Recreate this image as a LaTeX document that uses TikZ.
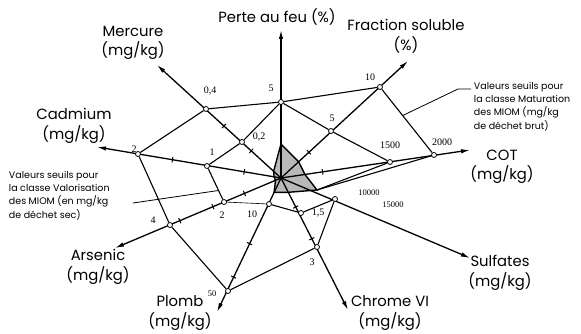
\documentclass[tikz,border=0pt]{standalone}
\usepackage{fontspec}
\setmainfont{Liberation Serif}
\newfontfamily\futura{Poppins}
\usetikzlibrary{arrows.meta,calc,decorations.markings,backgrounds}

\tikzset{
  axe/.style={line width=1.3pt,-{Latex[length=9pt,width=4.5pt]}},
  axtick/.style={postaction={decorate,decoration={markings,mark=at position #1 with {\draw[-,line width=1pt] (0,-2.8pt) -- (0,2.8pt);}}}},
  seuil/.style={line width=1.1pt},
  renvoi/.style={line width=0.8pt},
  pt/.style={circle,draw,fill=white,line width=0.8pt,inner sep=0pt,minimum size=5pt},
  valeur/.style={font=\fontsize{10}{11}\selectfont,inner sep=0.75pt},
  petit/.style={font=\fontsize{8.5}{9}\selectfont,inner sep=0.75pt},
  titre/.style={font=\futura\fontsize{14.8}{19.5}\selectfont,align=center,inner sep=0.75pt},
  note/.style={font=\futura\fontsize{9.5}{13.3}\selectfont,align=left,inner sep=0.75pt},
}

\begin{document}
\begin{tikzpicture}[x=1pt,y=1pt,yscale=-1,xscale=1]
\useasboundingbox (0,0) rectangle (581,334);

%centre and arrow ends
\coordinate (O) at (281,178);
\coordinate (tPerte) at (281,30);
\coordinate (tHg) at (157,65);
\coordinate (tCd) at (97,147);
\coordinate (tAs) at (115,248);
\coordinate (tPb) at (217,312);
\coordinate (tCr) at (348,310);
\coordinate (tSulf) at (470,258);
\coordinate (tCOT) at (470,150);
\coordinate (tFrac) at (408,61);

%Shape: threshold points
\node[pt] (P5) at (281,102) {};
\node[pt] (Hg4) at (206,109) {};
\node[pt] (Hg2) at (242,142) {};
\node[pt] (Cd2) at (138,154) {};
\node[pt] (Cd1) at (207,166) {};
\node[pt] (As4) at (170,225) {};
\node[pt] (As2) at (224,202) {};
\node[pt] (Pb50) at (228,291) {};
\node[pt] (Pb10) at (269,204) {};
\node[pt] (Cr3) at (317,247) {};
\node[pt] (Cr15) at (301,213) {};
\node[pt] (S15) at (335,199) {};
\coordinate (S10) at (317,190);
\node[pt] (C15) at (390,162) {};
\node[pt] (C20) at (434,155) {};
\node[pt] (F5) at (331,131) {};
\node[pt] (F10) at (380,87) {};

\begin{pgfonlayer}{background}
%Shape: measured values
\draw[line width=1.4pt,fill=gray!55] (281,144) -- (298.6,161.8) -- (305,174.5) -- (S10) -- (288.3,192.3) -- (274.1,192.4) -- (275.5,180.3) -- (274.1,176.8) -- (273.6,171.3) -- cycle ;

%Straight Lines: axes
\draw[axe] (O) -- (tPerte) ;
\draw[axe,axtick=0.24,axtick=0.46] (O) -- (tHg) ;
\draw[axe,axtick=0.2,axtick=0.59] (O) -- (tCd) ;
\draw[axe,axtick=0.22,axtick=0.41,axtick=0.61] (O) -- (tAs) ;
\draw[axe,axtick=0.49,axtick=0.74] (O) -- (tPb) ;
\draw[axe,axtick=0.22,axtick=0.46] (O) -- (tCr) ;
\draw[axe] (O) -- (tSulf) ;
\draw[axe,axtick=0.22] (O) -- (tCOT) ;
\draw[axe,axtick=0.22] (O) -- (tFrac) ;

%Straight Lines: Valorisation
\draw[seuil] (P5) -- (Hg2) -- (Cd1) -- (As2) ;
\draw[line width=0.6pt] (As2) -- (Pb10) ;
\draw[seuil] (Pb10) -- (Cr15) -- (S15) ;
\draw[seuil] (S10) -- (C15) -- (F5) -- (P5) ;
%Straight Lines: Maturation
\draw[seuil] (P5) -- (Hg4) -- (Cd2) -- (As4) -- (Pb50) -- (Cr3) -- (S15) ;
\draw[seuil] (S10) -- (C20) -- (F10) -- (P5) ;
\end{pgfonlayer}

% Text Node
\draw (277,17) node (lPerte) [titre] {Perte au feu (\%)};
\draw (406,36) node (lFrac) [titre] {Fraction soluble\\(\%)};
\draw (133,43) node (lHg) [titre] {Mercure\\(mg/kg)};
\draw (74,126) node (lCd) [titre] {Cadmium\\(mg/kg)};
\draw (98,267) node (lAs) [titre] {Arsenic\\(mg/kg)};
\draw (180,313) node (lPb) [titre] {Plomb\\(mg/kg)};
\draw (390,313) node (lCr) [titre] {Chrome VI\\(mg/kg)};
\draw (500,273) node (lSulf) [titre] {Sulfates\\(mg/kg)};
\draw (502,167) node (lCOT) [titre] {COT\\(mg/kg)};

% Text Node
\draw (271,88) node (vP5) [valeur] {5};
\draw (210,91) node (vHg4) [valeur] {0,4};
\draw (259,137) node (vHg2) [valeur] {0,2};
\draw (134,149) node (vCd2) [valeur] {2};
\draw (212,152) node (vCd1) [valeur] {1};
\draw (153,220) node (vAs4) [valeur] {4};
\draw (222,215) node (vAs2) [valeur] {2};
\draw (252,214) node (vPb10) [valeur] {10};
\draw (212,294) node (vPb50) [petit] {50};
\draw (318,213) node (vCr15) [valeur] {1,5};
\draw (312,262) node (vCr3) [valeur] {3};
\draw (369,193) node (vS10) [petit] {10000};
\draw (393,205) node (vS15) [petit] {15000};
\draw (390,145) node (vC15) [valeur] {1500};
\draw (442,142) node (vC20) [valeur] {2000};
\draw (332,118) node (vF5) [valeur] {5};
\draw (370,77) node (vF10) [valeur] {10};

% Text Node
\draw (473,81) node (nMat) [note,anchor=north west] {Valeurs seuils pour\\la classe Maturation\\des MIOM (mg/kg\\de déchet brut)};
\draw (8,170) node (nVal) [note,anchor=north west] {Valeurs seuils pour\\la classe Valorisation\\des MIOM (en mg/kg\\de déchet sec)};

%Straight Lines: notes
\coordinate (mat0) at ($(F10)!0.42!(C20)$);
\coordinate (mat1) at (458,89);
\coordinate (mat2) at (471,89);
\draw[renvoi] (mat0) -- (mat1) -- (mat2) ;
\coordinate (val0) at (133,203);
\coordinate (val1) at ($(Cd1)!0.68!(As2)$);
\draw[renvoi] (val0) -- (val1) ;

\end{tikzpicture}
\end{document}
